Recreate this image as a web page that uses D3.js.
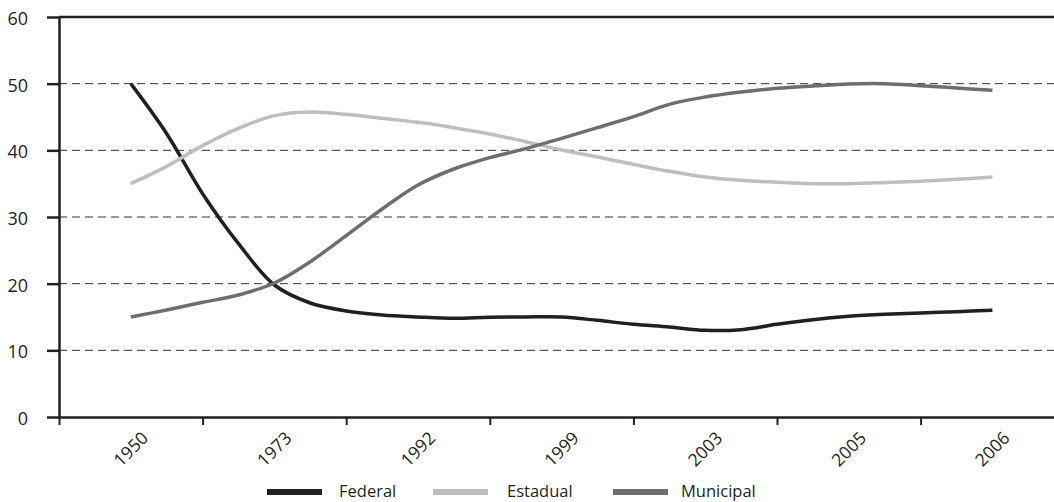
<!DOCTYPE html>
<html>
<head>
<meta charset="utf-8">
<script src="https://cdn.jsdelivr.net/npm/d3@7"></script>
<style>
  body { margin: 0; background: #fff; }
  svg { display: block; font-family: "Open Sans", sans-serif; }
</style>
</head>
<body>
<svg id="chart" width="1054" height="502"></svg>
<script>
// category labels on the x axis
const years = ["1950", "1973", "1992", "1999", "2003", "2005", "2006"];
// the lines carry 4 readings per label interval
const stepsPerYear = 4;

const federal = [50, 42.5, 33.5, 26, 19.8, 17.1, 15.9, 15.3, 15.0, 14.8, 14.95, 15.0, 15.0,
  14.5, 13.9, 13.5, 13.0, 13.1, 13.9, 14.6, 15.1, 15.4, 15.6, 15.8, 16.0];
const estadual = [35, 37.6, 40.7, 43.3, 45.2, 45.75, 45.4, 44.8, 44.2, 43.4, 42.45, 41.3, 40.05,
  39.0, 37.9, 36.85, 36.0, 35.5, 35.2, 35.0, 35.0, 35.15, 35.35, 35.65, 36.0];
const municipal = [15, 16.05, 17.2, 18.3, 20.1, 23.3, 27.2, 31.2, 34.8, 37.2, 38.9, 40.25, 41.8,
  43.4, 45.05, 46.9, 48.0, 48.75, 49.3, 49.65, 49.95, 50.0, 49.7, 49.35, 49.0];

const yTicks = [0, 10, 20, 30, 40, 50, 60];

const series = [
  { name: "Federal", values: federal, color: "#231f20" },
  { name: "Estadual", values: estadual, color: "#bcbec0" },
  { name: "Municipal", values: municipal, color: "#6d6e71" }
];

const svg = d3.select("#chart");
const plotLeft = 59, plotTop = 17, plotBottom = 417;
const bandW = 143.6;

const x = d3.scaleLinear()
  .domain([-0.5, years.length - 0.5])
  .range([plotLeft, plotLeft + bandW * years.length]);
const y = d3.scaleLinear().domain([0, 60]).range([plotBottom, plotTop]);

const ink = "#231f20";

// dashed grid
svg.append("g")
  .selectAll("line")
  .data(yTicks.filter((d) => d > 0 && d < 60))
  .join("line")
  .attr("x1", x.range()[0])
  .attr("x2", x.range()[1])
  .attr("y1", (d) => y(d))
  .attr("y2", (d) => y(d))
  .attr("stroke", "#333")
  .attr("stroke-width", 1)
  .attr("stroke-dasharray", "8,5");

// top frame line
svg.append("line")
  .attr("x1", x.range()[0])
  .attr("x2", x.range()[1])
  .attr("y1", y(60))
  .attr("y2", y(60))
  .attr("stroke", ink)
  .attr("stroke-width", 2.5);

// y axis
const yAxis = svg.append("g")
  .attr("transform", `translate(${plotLeft},0)`)
  .call(d3.axisLeft(y).tickValues(yTicks).tickSize(12).tickSizeOuter(0).tickPadding(19));
yAxis.select(".domain").attr("stroke", ink).attr("stroke-width", 2.5);
yAxis.selectAll(".tick line").attr("stroke", ink).attr("stroke-width", 2.5);
yAxis.selectAll(".tick text")
  .attr("fill", ink)
  .attr("font-size", 18)
  .attr("font-family", "Open Sans, sans-serif")
  .attr("dy", "0.42em");

// x axis (ticks at the category boundaries)
const xAxis = svg.append("g")
  .attr("transform", `translate(0,${plotBottom})`)
  .call(d3.axisBottom(x)
    .tickValues(d3.range(years.length).map((i) => i - 0.5))
    .tickSize(8)
    .tickSizeOuter(0)
    .tickFormat(""));
xAxis.select(".domain").attr("stroke", ink).attr("stroke-width", 2.5);
xAxis.selectAll(".tick line").attr("stroke", ink).attr("stroke-width", 2);

svg.append("g")
  .selectAll("text")
  .data(years)
  .join("text")
  .attr("transform", (d, i) => `translate(${x(i)},449) rotate(-45)`)
  .attr("text-anchor", "middle")
  .attr("dy", "0.35em")
  .attr("font-size", 17.5)
  .attr("fill", ink)
  .text((d) => d);

// lines
const line = d3.line()
  .x((d, i) => x(i / stepsPerYear))
  .y((d) => y(d))
  .curve(d3.curveCatmullRom.alpha(0.5));

svg.append("g")
  .selectAll("path")
  .data(series)
  .join("path")
  .attr("fill", "none")
  .attr("stroke", (d) => d.color)
  .attr("stroke-width", 3.5)
  .attr("d", (d) => line(d.values));

// legend
const legendSwatchX = [267, 433, 613];
const legendTextX = [339, 507, 681];
const legend = svg.append("g")
  .selectAll("g")
  .data(series)
  .join("g");
legend.append("rect")
  .attr("x", (d, i) => legendSwatchX[i])
  .attr("y", 489)
  .attr("width", 55)
  .attr("height", 6)
  .attr("fill", (d) => d.color);
legend.append("text")
  .attr("x", (d, i) => legendTextX[i])
  .attr("y", 497)
  .attr("font-size", 16.5)
  .attr("fill", ink)
  .text((d) => d.name);
</script>
</body>
</html>
